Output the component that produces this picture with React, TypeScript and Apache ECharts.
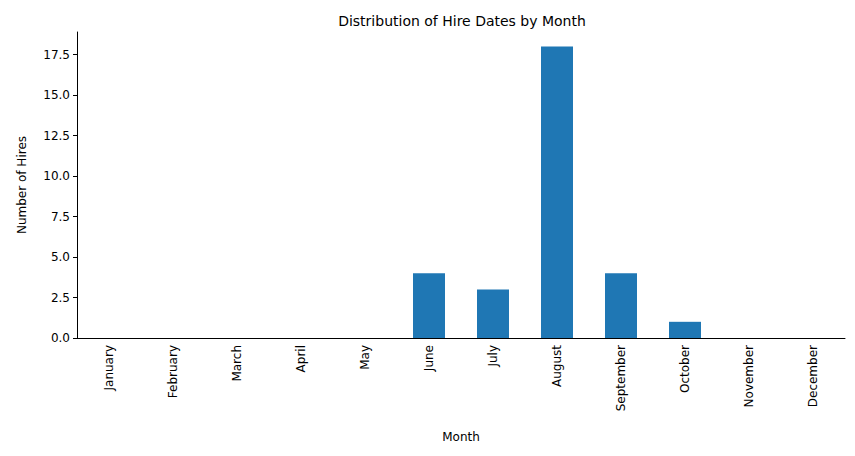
import { useEffect, useRef } from 'react';
import * as echarts from 'echarts';

const months = ['January', 'February', 'March', 'April', 'May', 'June', 'July', 'August', 'September', 'October', 'November', 'December'];
const hires = [0, 0, 0, 0, 0, 4, 3, 18, 4, 1, 0, 0];

const FONT = 'DejaVu Sans';

export default function App() {
  const ref = useRef<HTMLDivElement>(null);

  useEffect(() => {
    if (!ref.current) return;
    const chart = echarts.init(ref.current, undefined, { renderer: 'svg' });
    chart.setOption({
      animation: false,
      textStyle: { fontFamily: FONT },
      title: {
        text: 'Distribution of Hire Dates by Month',
        left: 449,
        top: 1,
        textAlign: 'center',
        textStyle: { fontFamily: FONT, fontSize: 14, fontWeight: 'normal', color: '#000' },
      },
      grid: { left: 62, right: 2, top: 24, bottom: 108 },
      xAxis: {
        type: 'category',
        data: months,
        name: 'Month',
        nameLocation: 'middle',
        nameGap: 93,
        nameTextStyle: { fontFamily: FONT, fontSize: 12, color: '#000' },
        axisLine: { lineStyle: { color: '#000', width: 1 } },
        axisTick: { alignWithLabel: true, length: 4, lineStyle: { color: '#000' } },
        axisLabel: { rotate: 90, fontFamily: FONT, fontSize: 12, color: '#000', margin: 7, interval: 0 },
      },
      yAxis: {
        type: 'value',
        min: 0,
        max: 18.9,
        interval: 2.5,
        name: 'Number of Hires',
        nameLocation: 'middle',
        nameGap: 49,
        nameTextStyle: { fontFamily: FONT, fontSize: 12, color: '#000' },
        axisLine: { show: true, lineStyle: { color: '#000', width: 1 } },
        axisTick: { show: true, length: 4, lineStyle: { color: '#000' } },
        splitLine: { show: false },
        axisLabel: {
          fontFamily: FONT,
          fontSize: 12,
          color: '#000',
          margin: 7,
          showMaxLabel: false,
          formatter: (v: number) => v.toFixed(1),
        },
      },
      series: [
        {
          type: 'bar',
          data: hires,
          barWidth: '50%',
          itemStyle: { color: '#1f77b4' },
        },
      ],
    });
    return () => chart.dispose();
  }, []);

  return <div ref={ref} style={{ width: 839, height: 440 }} />;
}
